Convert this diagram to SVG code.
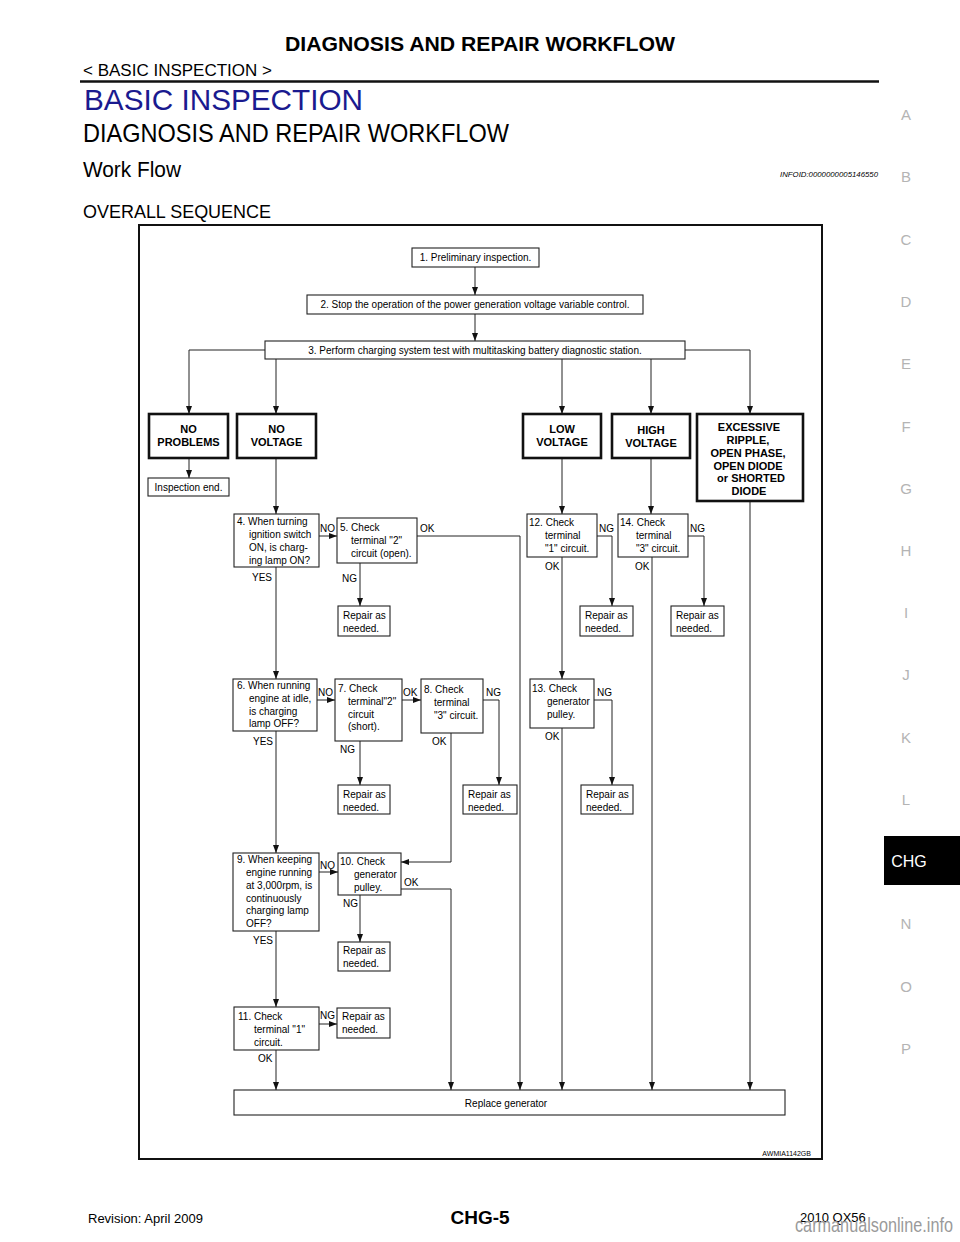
<svg xmlns="http://www.w3.org/2000/svg" width="960" height="1242" viewBox="0 0 960 1242">
<style>
text{font-family:"Liberation Sans",Arial,sans-serif;fill:#000}
.t{font-size:10px}
.lb{font-size:10px}
.bx{fill:#fff;stroke:#222;stroke-width:1.1}
.tk{fill:#fff;stroke:#111;stroke-width:2.6}
.bt{font-size:11px;font-weight:bold;text-anchor:middle}
.c{fill:none;stroke:#222;stroke-width:1;marker-end:url(#ah)}
.side{font-size:15px;fill:#b4b4b4;text-anchor:middle}
</style>
<defs>
<marker id="ah" viewBox="0 0 8 6" refX="8" refY="3" markerWidth="8" markerHeight="6" markerUnits="userSpaceOnUse" orient="auto">
<path d="M0,0 L8,3 L0,6 Z" fill="#111"/>
</marker>
</defs>
<rect width="960" height="1242" fill="#fff"/>

<g id="page-header">
<text x="480" y="51" font-size="20" font-weight="bold" text-anchor="middle" textLength="390" lengthAdjust="spacingAndGlyphs">DIAGNOSIS AND REPAIR WORKFLOW</text>
<text x="83" y="76" font-size="16" textLength="189" lengthAdjust="spacingAndGlyphs">&lt; BASIC INSPECTION &gt;</text>
<line x1="80" y1="81.5" x2="879" y2="81.5" stroke="#111" stroke-width="2.5"/>
<text x="84" y="110" font-size="30" style="fill:#1a1a8f" textLength="279" lengthAdjust="spacingAndGlyphs">BASIC INSPECTION</text>
<text x="83" y="142" font-size="25" textLength="426" lengthAdjust="spacingAndGlyphs">DIAGNOSIS AND REPAIR WORKFLOW</text>
<text x="83" y="177" font-size="22" textLength="98" lengthAdjust="spacingAndGlyphs">Work Flow</text>
<text x="878" y="177" font-size="7.5" font-style="italic" text-anchor="end" textLength="98" lengthAdjust="spacingAndGlyphs">INFOID:0000000005146550</text>
<text x="83" y="218" font-size="18" textLength="188" lengthAdjust="spacingAndGlyphs">OVERALL SEQUENCE</text>
</g>

<g id="side-index">
<text class="side" x="906" y="120">A</text>
<text class="side" x="906" y="182">B</text>
<text class="side" x="906" y="245">C</text>
<text class="side" x="906" y="307">D</text>
<text class="side" x="906" y="369">E</text>
<text class="side" x="906" y="432">F</text>
<text class="side" x="906" y="494">G</text>
<text class="side" x="906" y="556">H</text>
<text class="side" x="906" y="618">I</text>
<text class="side" x="906" y="680">J</text>
<text class="side" x="906" y="743">K</text>
<text class="side" x="906" y="805">L</text>
<rect x="884" y="836" width="76" height="49" fill="#000"/>
<text x="909" y="867" font-size="16" text-anchor="middle" style="fill:#fff">CHG</text>
<text class="side" x="906" y="929">N</text>
<text class="side" x="906" y="992">O</text>
<text class="side" x="906" y="1054">P</text>
</g>

<rect id="frame" x="139" y="225" width="683" height="934" fill="none" stroke="#111" stroke-width="2"/>

<g id="connectors">
<path class="c" d="M475,267 V295"/>
<path class="c" d="M475,314 V341"/>
<path class="c" d="M265,350 H189 V414"/>
<path class="c" d="M276,359 V414"/>
<path class="c" d="M562,359 V414"/>
<path class="c" d="M651,359 V414"/>
<path class="c" d="M685,350 H750 V414"/>
<path class="c" d="M189,458 V478"/>
<path class="c" d="M276,458 V514"/>
<path class="c" d="M319,536 H337"/>
<path class="c" d="M417,536 H520 V1090"/>
<path class="c" d="M360,563 V606"/>
<path class="c" d="M276,567 V679"/>
<path class="c" d="M562,458 V514"/>
<path class="c" d="M651,458 V514"/>
<path class="c" d="M597,536 H612 V606"/>
<path class="c" d="M688,536 H704 V606"/>
<path class="c" d="M562,557 V679"/>
<path class="c" d="M652,557 V1090"/>
<path class="c" d="M750,501 V1090"/>
<path class="c" d="M317,700 H335"/>
<path class="c" d="M402,700 H421"/>
<path class="c" d="M483,700 H499 V785"/>
<path class="c" d="M360,741 V785"/>
<path class="c" d="M451,733 V862 H401"/>
<path class="c" d="M276,731 V853"/>
<path class="c" d="M594,700 H612 V785"/>
<path class="c" d="M562,728 V1090"/>
<path class="c" d="M319,872 H338"/>
<path class="c" d="M401,889 H451 V1090"/>
<path class="c" d="M360,895 V942"/>
<path class="c" d="M276,931 V1007"/>
<path class="c" d="M319,1024 H337"/>
<path class="c" d="M276,1050 V1090"/>
</g>

<g id="connector-labels" class="lb">
<text x="320" y="532">NO</text>
<text x="420" y="532">OK</text>
<text x="342" y="582">NG</text>
<text x="252" y="581">YES</text>
<text x="599" y="532">NG</text>
<text x="545" y="570">OK</text>
<text x="690" y="532">NG</text>
<text x="635" y="570">OK</text>
<text x="318" y="696">NO</text>
<text x="403" y="696">OK</text>
<text x="486" y="696">NG</text>
<text x="340" y="753">NG</text>
<text x="432" y="745">OK</text>
<text x="253" y="745">YES</text>
<text x="597" y="696">NG</text>
<text x="545" y="740">OK</text>
<text x="320" y="869">NO</text>
<text x="404" y="886">OK</text>
<text x="343" y="907">NG</text>
<text x="253" y="944">YES</text>
<text x="320" y="1019">NG</text>
<text x="258" y="1062">OK</text>
</g>

<g id="n1"><rect class="bx" x="412" y="248" width="127" height="19"/><text class="t" x="475.5" y="261" text-anchor="middle">1. Preliminary inspection.</text></g>
<g id="n2"><rect class="bx" x="307" y="295" width="336" height="19"/><text class="t" x="475" y="308" text-anchor="middle">2. Stop the operation of the power generation voltage variable control.</text></g>
<g id="n3"><rect class="bx" x="265" y="341" width="420" height="18"/><text class="t" x="475" y="354" text-anchor="middle">3. Perform charging system test with multitasking battery diagnostic station.</text></g>

<g id="no-problems"><rect class="tk" x="149" y="414" width="79" height="44"/><text class="bt" x="188.5" y="433">NO</text><text class="bt" x="188.5" y="446">PROBLEMS</text></g>
<g id="no-voltage"><rect class="tk" x="237" y="414" width="79" height="44"/><text class="bt" x="276.5" y="433">NO</text><text class="bt" x="276.5" y="446">VOLTAGE</text></g>
<g id="low-voltage"><rect class="tk" x="523" y="414" width="78" height="44"/><text class="bt" x="562" y="433">LOW</text><text class="bt" x="562" y="446">VOLTAGE</text></g>
<g id="high-voltage"><rect class="tk" x="612" y="414" width="78" height="44"/><text class="bt" x="651" y="434">HIGH</text><text class="bt" x="651" y="447">VOLTAGE</text></g>
<g id="excessive"><rect class="tk" x="697" y="414" width="106" height="87"/>
<text class="bt" x="749" y="431">EXCESSIVE</text><text class="bt" x="748" y="444">RIPPLE,</text><text class="bt" x="748" y="457">OPEN PHASE,</text><text class="bt" x="748" y="470">OPEN DIODE</text><text class="bt" x="751" y="482">or SHORTED</text><text class="bt" x="749" y="495">DIODE</text></g>

<g id="inspection-end"><rect class="bx" x="148" y="478" width="81" height="18"/><text class="t" x="188.5" y="491" text-anchor="middle">Inspection end.</text></g>

<g id="n4"><rect class="bx" x="234" y="514" width="85" height="53"/>
<text class="t" x="237" y="525">4. When turning</text><text class="t" x="249" y="538">ignition switch</text><text class="t" x="249" y="551">ON, is charg-</text><text class="t" x="249" y="564">ing lamp ON?</text></g>
<g id="n5"><rect class="bx" x="337" y="518" width="80" height="45"/>
<text class="t" x="340" y="531">5. Check</text><text class="t" x="351" y="544">terminal "2"</text><text class="t" x="351" y="557">circuit (open).</text></g>
<g id="r5"><rect class="bx" x="338" y="606" width="52" height="30"/><text class="t" x="343" y="619">Repair as</text><text class="t" x="343" y="632">needed.</text></g>

<g id="n12"><rect class="bx" x="527" y="514" width="70" height="43"/>
<text class="t" x="529" y="526">12. Check</text><text class="t" x="545" y="539">terminal</text><text class="t" x="545" y="552">"1" circuit.</text></g>
<g id="r12"><rect class="bx" x="580" y="606" width="53" height="30"/><text class="t" x="585" y="619">Repair as</text><text class="t" x="585" y="632">needed.</text></g>
<g id="n14"><rect class="bx" x="618" y="514" width="70" height="43"/>
<text class="t" x="620" y="526">14. Check</text><text class="t" x="636" y="539">terminal</text><text class="t" x="636" y="552">"3" circuit.</text></g>
<g id="r14"><rect class="bx" x="671" y="606" width="53" height="30"/><text class="t" x="676" y="619">Repair as</text><text class="t" x="676" y="632">needed.</text></g>

<g id="n6"><rect class="bx" x="233" y="679" width="84" height="52"/>
<text class="t" x="237" y="689">6. When running</text><text class="t" x="249" y="702">engine at idle,</text><text class="t" x="249" y="715">is charging</text><text class="t" x="249" y="727">lamp OFF?</text></g>
<g id="n7"><rect class="bx" x="335" y="679" width="67" height="62"/>
<text class="t" x="338" y="692">7. Check</text><text class="t" x="348" y="705">terminal"2"</text><text class="t" x="348" y="718">circuit</text><text class="t" x="348" y="730">(short).</text></g>
<g id="n8"><rect class="bx" x="421" y="679" width="62" height="54"/>
<text class="t" x="424" y="693">8. Check</text><text class="t" x="434" y="706">terminal</text><text class="t" x="434" y="719">"3" circuit.</text></g>
<g id="r7"><rect class="bx" x="338" y="785" width="52" height="29"/><text class="t" x="343" y="798">Repair as</text><text class="t" x="343" y="811">needed.</text></g>
<g id="r8"><rect class="bx" x="463" y="785" width="54" height="29"/><text class="t" x="468" y="798">Repair as</text><text class="t" x="468" y="811">needed.</text></g>
<g id="n13"><rect class="bx" x="530" y="679" width="64" height="49"/>
<text class="t" x="532" y="692">13. Check</text><text class="t" x="547" y="705">generator</text><text class="t" x="547" y="718">pulley.</text></g>
<g id="r13"><rect class="bx" x="581" y="785" width="52" height="29"/><text class="t" x="586" y="798">Repair as</text><text class="t" x="586" y="811">needed.</text></g>

<g id="n9"><rect class="bx" x="233" y="853" width="86" height="78"/>
<text class="t" x="237" y="863">9. When keeping</text><text class="t" x="246" y="876">engine running</text><text class="t" x="246" y="889">at 3,000rpm, is</text><text class="t" x="246" y="902">continuously</text><text class="t" x="246" y="914">charging lamp</text><text class="t" x="246" y="927">OFF?</text></g>
<g id="n10"><rect class="bx" x="338" y="853" width="63" height="42"/>
<text class="t" x="340" y="865">10. Check</text><text class="t" x="354" y="878">generator</text><text class="t" x="354" y="891">pulley.</text></g>
<g id="r10"><rect class="bx" x="338" y="942" width="52" height="29"/><text class="t" x="343" y="954">Repair as</text><text class="t" x="343" y="967">needed.</text></g>

<g id="n11"><rect class="bx" x="234" y="1007" width="85" height="43"/>
<text class="t" x="238" y="1020">11. Check</text><text class="t" x="254" y="1033">terminal "1"</text><text class="t" x="254" y="1046">circuit.</text></g>
<g id="r11"><rect class="bx" x="337" y="1008" width="53" height="30"/><text class="t" x="342" y="1020">Repair as</text><text class="t" x="342" y="1033">needed.</text></g>

<g id="replace"><rect class="bx" x="234" y="1090" width="551" height="25"/><text class="t" x="506" y="1107" text-anchor="middle">Replace generator</text></g>

<text x="811" y="1156" font-size="7" text-anchor="end">AWMIA1142GB</text>

<g id="footer">
<text x="88" y="1223" font-size="13">Revision: April 2009</text>
<text x="480" y="1224" font-size="19" font-weight="bold" text-anchor="middle">CHG-5</text>
<text x="800" y="1222" font-size="13">2010 QX56</text>
<text x="953" y="1232" font-size="21" text-anchor="end" style="fill:#9a9a9a" textLength="158" lengthAdjust="spacingAndGlyphs">carmanualsonline.info</text>
</g>
</svg>
